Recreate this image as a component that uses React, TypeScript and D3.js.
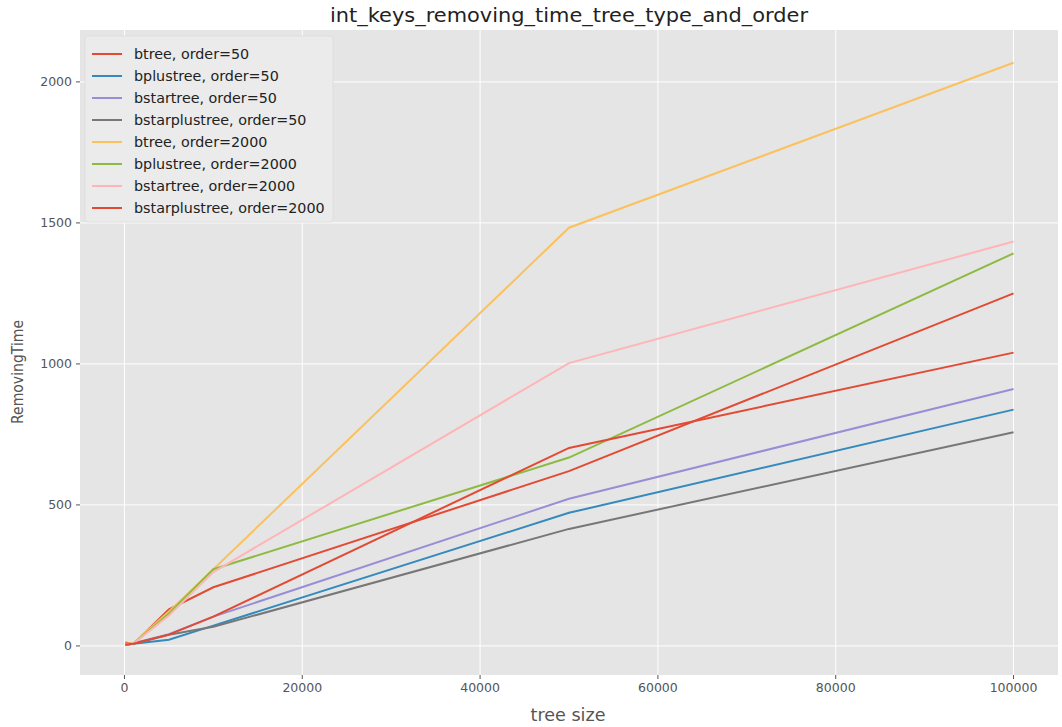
import React from "react";
import * as d3 from "d3";

const treeSizes = [100, 1000, 5000, 10000, 50000, 100000];
const seriesNames = [
  "btree, order=50",
  "bplustree, order=50",
  "bstartree, order=50",
  "bstarplustree, order=50",
  "btree, order=2000",
  "bplustree, order=2000",
  "bstartree, order=2000",
  "bstarplustree, order=2000",
];
const btree50 = [12, 6, 130, 208, 620, 1250];
const bplustree50 = [3, 8, 22, 72, 472, 838];
const bstartree50 = [5, 10, 42, 104, 522, 911];
const bstarplustree50 = [4, 8, 40, 68, 415, 758];
const btree2000 = [8, 10, 122, 272, 1483, 2068];
const bplustree2000 = [6, 8, 115, 272, 668, 1392];
const bstartree2000 = [6, 8, 108, 262, 1003, 1434];
const bstarplustree2000 = [5, 8, 40, 104, 702, 1040];
const seriesValues = [btree50, bplustree50, bstartree50, bstarplustree50, btree2000, bplustree2000, bstartree2000, bstarplustree2000];
const colors = ["#E24A33", "#348ABD", "#988ED5", "#777777", "#FBC15E", "#8EBA42", "#FFB5B8", "#E24A33"];
const xTicks = [0, 20000, 40000, 60000, 80000, 100000];
const yTicks = [0, 500, 1000, 1500, 2000];

const W = 1062, H = 727;
const L = 80, R = 1058, T = 30, B = 675;
const FONT = "DejaVu Sans, sans-serif";

export default function App() {
  const x = d3.scaleLinear().domain([-5000, 105000]).range([L, R]);
  const y = d3.scaleLinear().domain([-103, 2184]).range([B, T]);
  const line = d3.line<[number, number]>().x((d) => x(d[0])).y((d) => y(d[1]));

  return (
    <svg width={W} height={H} style={{ position: "absolute", left: 0, top: 0, background: "#fff" }}>
      <rect x={L} y={T} width={R - L} height={B - T} fill="#E5E5E5" />
      {xTicks.map((t) => (
        <line key={"gx" + t} x1={x(t)} x2={x(t)} y1={T} y2={B} stroke="#fff" strokeWidth={1} />
      ))}
      {yTicks.map((t) => (
        <line key={"gy" + t} x1={L} x2={R} y1={y(t)} y2={y(t)} stroke="#fff" strokeWidth={1} />
      ))}
      {seriesValues.map((vals, i) => (
        <path
          key={"s" + i}
          d={line(treeSizes.map((s, j) => [s, vals[j]] as [number, number])) || ""}
          fill="none"
          stroke={colors[i]}
          strokeWidth={2}
        />
      ))}
      {xTicks.map((t) => (
        <g key={"tx" + t}>
          <line x1={x(t)} x2={x(t)} y1={B} y2={B + 4} stroke="#555" />
          <text x={x(t)} y={B + 17} textAnchor="middle" fontFamily={FONT} fontSize={12.5} fill="#555">
            {t}
          </text>
        </g>
      ))}
      {yTicks.map((t) => (
        <g key={"ty" + t}>
          <line x1={L - 4} x2={L} y1={y(t)} y2={y(t)} stroke="#555" />
          <text x={L - 8} y={y(t) + 4.5} textAnchor="end" fontFamily={FONT} fontSize={12.5} fill="#555">
            {t}
          </text>
        </g>
      ))}
      <text x={569} y={22} textAnchor="middle" fontFamily={FONT} fontSize={19} fill="#222" textLength={478} lengthAdjust="spacingAndGlyphs">
        int_keys_removing_time_tree_type_and_order
      </text>
      <text x={568} y={721} textAnchor="middle" fontFamily={FONT} fontSize={17} fill="#555" textLength={75} lengthAdjust="spacingAndGlyphs">
        tree size
      </text>
      <text
        transform={`translate(23,372) rotate(-90)`}
        textAnchor="middle"
        fontFamily={FONT}
        fontSize={16}
        fill="#555"
        textLength={104}
        lengthAdjust="spacingAndGlyphs"
      >
        RemovingTime
      </text>
      <g>
        <rect x={85} y={36} width={248} height={186} rx={3} fill="#EBEBEB" stroke="#dcdcdc" strokeWidth={0.8} />
        {seriesNames.map((n, i) => (
          <g key={"lg" + i}>
            <line x1={92} x2={122} y1={54 + i * 22} y2={54 + i * 22} stroke={colors[i]} strokeWidth={2} />
            <text x={134} y={54 + i * 22 + 5} fontFamily={FONT} fontSize={14.3} fill="#222">
              {n}
            </text>
          </g>
        ))}
      </g>
    </svg>
  );
}
